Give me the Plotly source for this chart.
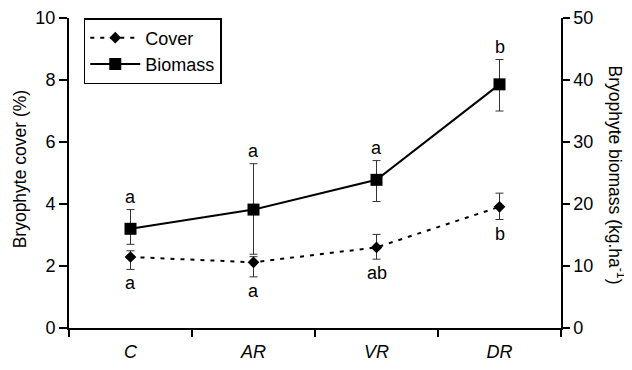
import plotly.graph_objects as go

categories = ["C", "AR", "VR", "DR"]

cover = [2.29, 2.12, 2.60, 3.91]
cover_err_plus = [0.20, 0.18, 0.42, 0.44]
cover_err_minus = [0.40, 0.47, 0.38, 0.41]

biomass = [16.0, 19.1, 23.9, 39.3]
biomass_err_plus = [3.1, 7.4, 3.1, 4.0]
biomass_err_minus = [2.5, 7.2, 3.5, 4.3]

letters_biomass = ["a", "a", "a", "b"]
letters_cover = ["a", "a", "ab", "b"]

left_ticks = [0, 2, 4, 6, 8, 10]
right_ticks = [0, 10, 20, 30, 40, 50]

FONT = "Liberation Sans, Arial, sans-serif"

fig = go.Figure()

fig.add_trace(go.Scatter(
    x=categories, y=cover, name="Cover", yaxis="y",
    mode="lines+markers",
    line=dict(color="black", width=2, dash="4px,6px"),
    marker=dict(symbol="diamond", size=9, color="black"),
    error_y=dict(type="data", symmetric=False, array=cover_err_plus,
                 arrayminus=cover_err_minus, color="#333333", thickness=1, width=4),
))

fig.add_trace(go.Scatter(
    x=categories, y=biomass, name="Biomass", yaxis="y2",
    mode="lines+markers",
    line=dict(color="black", width=2),
    marker=dict(symbol="square", size=12, color="black"),
    error_y=dict(type="data", symmetric=False, array=biomass_err_plus,
                 arrayminus=biomass_err_minus, color="#333333", thickness=1, width=4),
))

annotations = []
for c, v, e, t in zip(categories, biomass, biomass_err_plus, letters_biomass):
    annotations.append(dict(x=c, y=v + e, xref="x", yref="y2", text=t,
                            showarrow=False, yanchor="middle", yshift=13,
                            font=dict(size=18, color="black", family=FONT)))
for c, v, e, t in zip(categories, cover, cover_err_minus, letters_cover):
    annotations.append(dict(x=c, y=v - e, xref="x", yref="y", text=t,
                            showarrow=False, yanchor="middle", yshift=-14,
                            font=dict(size=18, color="black", family=FONT)))

annotations.append(dict(x=-0.0996, y=0.515, xref="paper", yref="paper",
                        xanchor="center", yanchor="middle",
                        text="Bryophyte cover (%)", textangle=-90, showarrow=False,
                        font=dict(size=17.5, color="black", family=FONT)))
annotations.append(dict(x=1.114, y=0.495, xref="paper", yref="paper",
                        xanchor="center", yanchor="middle",
                        text="Bryophyte biomass (kg.ha<sup>-1</sup>)", textangle=90,
                        showarrow=False,
                        font=dict(size=17.5, color="black", family=FONT)))

fig.update_layout(
    width=624, height=362,
    margin=dict(l=61, r=71, t=10, b=42, autoexpand=False),
    paper_bgcolor="white", plot_bgcolor="white",
    font=dict(family=FONT, size=18, color="black"),
    showlegend=True,
    legend=dict(x=0.03, y=1, xanchor="left", yanchor="top",
                bgcolor="white", bordercolor="black", borderwidth=1.5,
                font=dict(size=18, family=FONT, color="black"),
                tracegroupgap=0, itemwidth=50),
    xaxis=dict(type="category", categoryorder="array", categoryarray=categories,
               range=[-0.5, 3.5], showline=True, linecolor="black", linewidth=2,
               ticks="outside", ticklen=7, tickwidth=1.5, tickcolor="black",
               tickson="boundaries", showgrid=False, zeroline=False,
               automargin=False,
               tickfont=dict(size=18, style="italic", family=FONT),
               ticklabelstandoff=6),
    yaxis=dict(range=[0, 10], tickvals=left_ticks, showline=True, linecolor="black",
               linewidth=2, ticks="outside", ticklen=8, tickwidth=1.5,
               tickcolor="black", showgrid=False, zeroline=False, automargin=False,
               tickfont=dict(size=18, family=FONT)),
    yaxis2=dict(range=[0, 50], tickvals=right_ticks, overlaying="y", side="right",
                anchor="x", showline=True, linecolor="black", linewidth=1.5,
                ticks="outside", ticklen=7, tickwidth=1.5, tickcolor="black",
                showgrid=False, zeroline=False, automargin=False,
                tickfont=dict(size=18, family=FONT)),
    yaxis3=dict(range=[0, 50], tickvals=right_ticks, overlaying="y", side="right",
                anchor="x", showline=False, ticks="inside", ticklen=7, tickwidth=1.5,
                tickcolor="black", showticklabels=False, showgrid=False,
                zeroline=False, automargin=False),
    annotations=annotations,
)

fig.write_html("out.html")
